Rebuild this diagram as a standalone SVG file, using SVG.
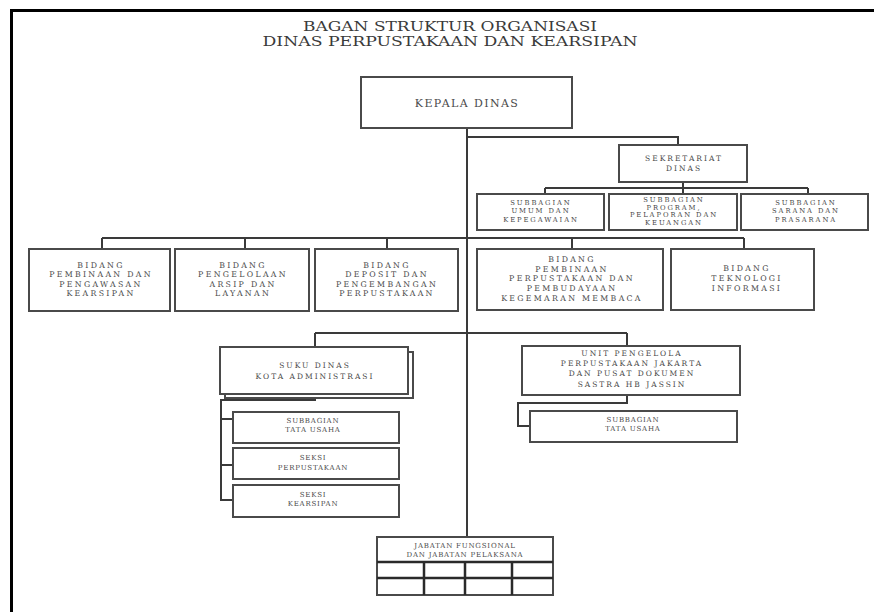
<svg xmlns="http://www.w3.org/2000/svg" width="874" height="612" viewBox="0 0 874 612">
<style>
.box{fill:#fff;stroke:#4a4a4a;stroke-width:2}
.ln{fill:none;stroke:#3a3a3a;stroke-width:2}
text{font-family:"DejaVu Serif","Liberation Serif",serif;fill:#4a4a4a;text-anchor:middle}
.ti{font-size:12.5px;fill:#3a3a3a}
.kd{font-size:11px;letter-spacing:1.4px}
.bd{font-size:7.8px;letter-spacing:2.3px}
.sb{font-size:7.5px;letter-spacing:2px}
.su{font-size:6.8px;letter-spacing:1.9px}
.sm{font-size:7px;letter-spacing:0.8px}
</style>
<rect x="0" y="0" width="874" height="612" fill="#fff"/>
<path d="M11.5 612 V10.5 H874" fill="none" stroke="#000" stroke-width="3"/>
<g id="title">
<text class="ti" x="450" y="31" textLength="294" lengthAdjust="spacingAndGlyphs">BAGAN STRUKTUR ORGANISASI</text>
<text class="ti" x="450" y="46" textLength="375" lengthAdjust="spacingAndGlyphs">DINAS PERPUSTAKAAN DAN KEARSIPAN</text>
</g>
<g id="connectors">
<path class="ln" d="M467 128 V537"/>
<path class="ln" d="M467 137 H678 V145"/>
<path class="ln" d="M683 182 V194 M545 188 H808 M545 188 V194 M808 188 V194"/>
<path class="ln" d="M102 238 H744 M102 238 V249 M245 238 V249 M387 238 V249 M572 238 V249 M744 238 V249"/>
<path class="ln" d="M315 333 H627 M315 333 V347 M627 333 V346"/>
<path class="ln" d="M315 398 V400 H221 V500 H233 M221 419 H233 M221 465 H233"/>
<path class="ln" d="M627 395 V403 H518 V426 H530"/>
</g>
<g id="kepala-dinas">
<rect class="box" x="361" y="77" width="211" height="51"/>
<text class="kd" x="467" y="107">KEPALA DINAS</text>
</g>
<g id="sekretariat">
<rect class="box" x="619" y="145" width="128" height="37" stroke-width="2.5"/>
<text class="sb" x="684" y="161">SEKRETARIAT</text>
<text class="sb" x="684" y="171">DINAS</text>
</g>
<g id="subbag-umum">
<rect class="box" x="477" y="194" width="127" height="36"/>
<text class="su" x="541" y="205">SUBBAGIAN</text>
<text class="su" x="541" y="213">UMUM DAN</text>
<text class="su" x="541" y="222">KEPEGAWAIAN</text>
</g>
<g id="subbag-program">
<rect class="box" x="609" y="194" width="128" height="36"/>
<text class="su" x="674" y="202" font-size="6.3px">SUBBAGIAN</text>
<text class="su" x="674" y="209.5" font-size="6.3px">PROGRAM,</text>
<text class="su" x="674" y="217" font-size="6.3px">PELAPORAN DAN</text>
<text class="su" x="674" y="224.5" font-size="6.3px">KEUANGAN</text>
</g>
<g id="subbag-sarana">
<rect class="box" x="741" y="194" width="127" height="36"/>
<text class="su" x="806" y="205">SUBBAGIAN</text>
<text class="su" x="806" y="213">SARANA DAN</text>
<text class="su" x="806" y="222">PRASARANA</text>
</g>
<g id="bidang-pembinaan-kearsipan">
<rect class="box" x="29" y="249" width="141" height="62"/>
<text class="bd" x="101" y="268">BIDANG</text>
<text class="bd" x="101" y="277.3">PEMBINAAN DAN</text>
<text class="bd" x="101" y="286.6">PENGAWASAN</text>
<text class="bd" x="101" y="296">KEARSIPAN</text>
</g>
<g id="bidang-pengelolaan-arsip">
<rect class="box" x="175" y="249" width="134" height="62"/>
<text class="bd" x="243" y="268">BIDANG</text>
<text class="bd" x="243" y="277.3">PENGELOLAAN</text>
<text class="bd" x="243" y="286.6">ARSIP DAN</text>
<text class="bd" x="243" y="296">LAYANAN</text>
</g>
<g id="bidang-deposit">
<rect class="box" x="315" y="249" width="143" height="62"/>
<text class="bd" x="387" y="268">BIDANG</text>
<text class="bd" x="387" y="277.3">DEPOSIT DAN</text>
<text class="bd" x="387" y="286.6">PENGEMBANGAN</text>
<text class="bd" x="387" y="296">PERPUSTAKAAN</text>
</g>
<g id="bidang-pembinaan-perpustakaan">
<rect class="box" x="477" y="249" width="186" height="61"/>
<text class="bd" x="572" y="262">BIDANG</text>
<text class="bd" x="572" y="271.5">PEMBINAAN</text>
<text class="bd" x="572" y="281">PERPUSTAKAAN DAN</text>
<text class="bd" x="572" y="290.5">PEMBUDAYAAN</text>
<text class="bd" x="572" y="300.5">KEGEMARAN MEMBACA</text>
</g>
<g id="bidang-teknologi">
<rect class="box" x="671" y="249" width="143" height="61"/>
<text class="bd" x="747" y="271">BIDANG</text>
<text class="bd" x="747" y="281">TEKNOLOGI</text>
<text class="bd" x="747" y="291">INFORMASI</text>
</g>
<g id="suku-dinas">
<rect class="box" x="225" y="352" width="188" height="46"/>
<rect class="box" x="220" y="347" width="188" height="47"/>
<text class="sb" x="315" y="368">SUKU DINAS</text>
<text class="sb" x="315" y="379">KOTA ADMINISTRASI</text>
</g>
<g id="suku-subbag-tu">
<rect class="box" x="233" y="412" width="166" height="31"/>
<text class="sm" x="313" y="423">SUBBAGIAN</text>
<text class="sm" x="313" y="432">TATA USAHA</text>
</g>
<g id="seksi-perpustakaan">
<rect class="box" x="233" y="448" width="166" height="31"/>
<text class="sm" x="313" y="460">SEKSI</text>
<text class="sm" x="313" y="470">PERPUSTAKAAN</text>
</g>
<g id="seksi-kearsipan">
<rect class="box" x="233" y="485" width="166" height="32"/>
<text class="sm" x="313" y="497">SEKSI</text>
<text class="sm" x="313" y="506">KEARSIPAN</text>
</g>
<g id="unit-pengelola">
<rect class="box" x="522" y="346" width="218" height="49"/>
<text class="sb" x="632" y="356" font-size="7.8px" letter-spacing="2.3px">UNIT PENGELOLA</text>
<text class="sb" x="632" y="366" font-size="7.8px" letter-spacing="2.3px">PERPUSTAKAAN JAKARTA</text>
<text class="sb" x="632" y="376" font-size="7.8px" letter-spacing="2.3px">DAN PUSAT DOKUMEN</text>
<text class="sb" x="632" y="386.5" font-size="7.8px" letter-spacing="2.3px">SASTRA HB JASSIN</text>
</g>
<g id="unit-subbag-tu">
<rect class="box" x="530" y="411" width="207" height="31"/>
<text class="sm" x="633" y="422">SUBBAGIAN</text>
<text class="sm" x="633" y="431">TATA USAHA</text>
</g>
<g id="jabatan">
<rect class="box" x="377" y="537" width="176" height="58"/>
<path d="M377 562 H553 M377 578 H553 M424 562 V595 M465 562 V595 M512 562 V595" fill="none" stroke="#2a2a2a" stroke-width="2.5"/>
<text class="sm" x="465" y="548" font-size="6.5px">JABATAN  FUNGSIONAL</text>
<text class="sm" x="465" y="557" font-size="6.5px">DAN JABATAN  PELAKSANA</text>
</g>
</svg>
